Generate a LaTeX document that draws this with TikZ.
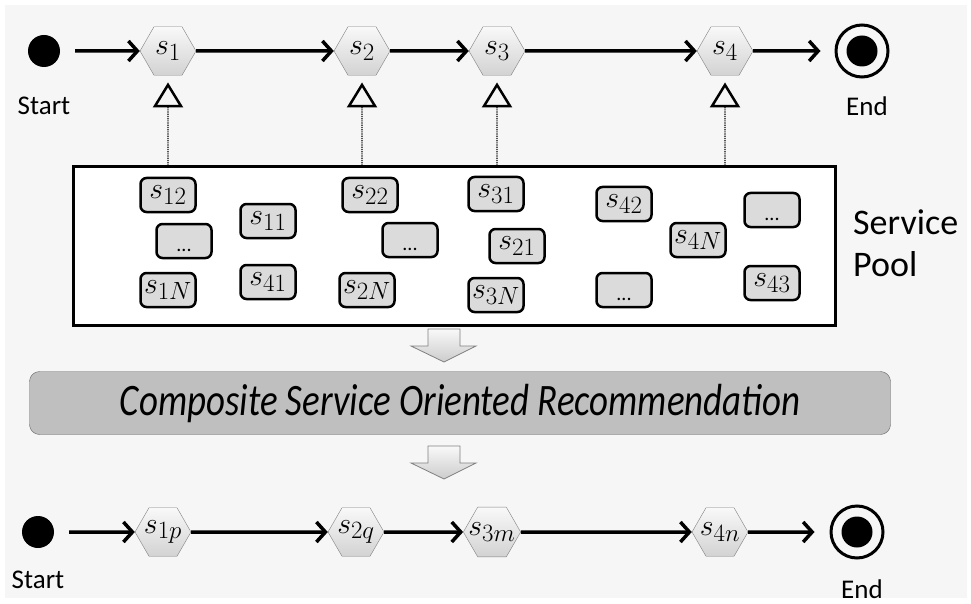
\documentclass[tikz,border=0pt]{standalone}
\usepackage{fontspec}
\setmainfont{Carlito}
\newfontfamily\condfont[FakeStretch=0.82]{Carlito}
\usepackage{color}
\usepackage{tikz}
\usetikzlibrary{shapes.geometric}
\usetikzlibrary{arrows.meta}
\definecolor{bgcol}{RGB}{246,246,246}
\definecolor{hexline}{RGB}{128,128,128}
\newcommand{\sv}[1]{\scalebox{1.2}{$s_{#1}$}}
\begin{document}
\begin{tikzpicture}[x=1pt,y=-1pt,
    hex/.style={regular polygon,regular polygon sides=6,minimum size=56pt,inner sep=-6pt,draw=hexline,top color=gray!5,bottom color=gray!35,font=\fontsize{24.88}{30}\selectfont},
    svc/.style={draw,line width=2.5pt,rounded corners=6pt,fill=gray!28,minimum width=55pt,minimum height=34pt,inner sep=0pt,font=\fontsize{24.88}{30}\selectfont},
    more/.style={svc,font=\fontsize{20}{24}\selectfont,text height=20pt,text depth=0pt},
    dot/.style={circle,fill=black,minimum size=32pt,inner sep=0pt},
    fin/.style={circle,draw,line width=3pt,minimum size=52pt,inner sep=0pt},
    lbl/.style={font=\fontsize{27}{30}\selectfont,inner sep=0pt},
    flow/.style={line width=3.5pt,-{Straight Barb[length=9pt,width=20pt]}},
    realize/.style={densely dotted,line width=1.2pt,shorten >=7pt,-{Triangle[open,length=25pt,width=30pt,line width=2.5pt]}},
    blk/.style={draw=gray,line width=0.8pt,top color=gray!5,bottom color=gray!40}]
    \fill[white] (0,0) rectangle (971,604);
    \fill[bgcol] (5,5) rectangle (967,598);

    % composite service (abstract)
    \node[dot] (start) at (44,51) {};
    \node[lbl] (startlbl) at (44,106) {Start};
    \node[hex] (s1) at (168,51) {\sv{1}};
    \node[hex] (s2) at (362,51) {\sv{2}};
    \node[hex] (s3) at (497,51) {\sv{3}};
    \node[hex] (s4) at (725,51) {\sv{4}};
    \node[fin] (end) at (862,51) {};
    \node[dot,minimum size=31pt] (enddot) at (end) {};
    \node[lbl] (endlbl) at (867,106) {End};
    \draw[flow,shorten <=15pt] (start) -- (s1);
    \draw[flow] (s1) -- (s2);
    \draw[flow] (s2) -- (s3);
    \draw[flow] (s3) -- (s4);
    \draw[flow,shorten >=14pt] (s4) -- (end);

    % service pool
    \node[draw,line width=3pt,fill=white,minimum width=762pt,minimum height=158pt] (pool) at (454,246) {};
    \foreach \n/\x/\y in {12/168/195,1N/168/290,11/268/221,41/268/282,22/370/195,2N/367/290,
                          31/496/194,21/517/246,3N/496/295,42/624/204,4N/698/240,43/772/283}
        \node[svc] (b\n) at (\x,\y) {\sv{\n}};
    \foreach \i/\x/\y in {1/184/241,2/410/240,3/624/290,4/772/210}
        \node[more] (m\i) at (\x,\y) {...};
    \node[font=\fontsize{36}{42}\selectfont,align=left,anchor=north west,inner sep=0pt] (pooltxt) at (853,210) {Service\\Pool};
    \foreach \k in {1,2,3,4}
        \draw[realize] (pool.north -| s\k) -- (s\k.south);

    % recommendation
    \foreach \y in {329,446}
        \path[blk] (428,\y) -- ++(32,0) -- ++(0,17) -- ++(16,0) -- ++(-32,16) -- ++(-33,-16) -- ++(17,0) -- cycle;
    \node[draw=gray!80!black,fill=gray!50,rounded corners=10pt,minimum width=861pt,minimum height=63pt,
          font=\condfont\itshape\fontsize{45}{50}\selectfont] (csor) at (460,403) {Composite Service Oriented Recommendation};

    % composite service (concrete)
    \node[dot] (start2) at (38,532) {};
    \node[lbl] (startlbl2) at (38,580) {Start};
    \node[hex] (t1) at (163,532) {\sv{1p}};
    \node[hex] (t2) at (356,532) {\sv{2q}};
    \node[hex] (t3) at (492,532) {\sv{3m}};
    \node[hex] (t4) at (720,532) {\sv{4n}};
    \node[fin] (end2) at (857,532) {};
    \node[dot,minimum size=31pt] (enddot2) at (end2) {};
    \node[lbl] (endlbl2) at (862,589) {End};
    \draw[flow,shorten <=15pt] (start2) -- (t1);
    \draw[flow] (t1) -- (t2);
    \draw[flow] (t2) -- (t3);
    \draw[flow] (t3) -- (t4);
    \draw[flow,shorten >=15pt] (t4) -- (end2);
\end{tikzpicture}
\end{document}
